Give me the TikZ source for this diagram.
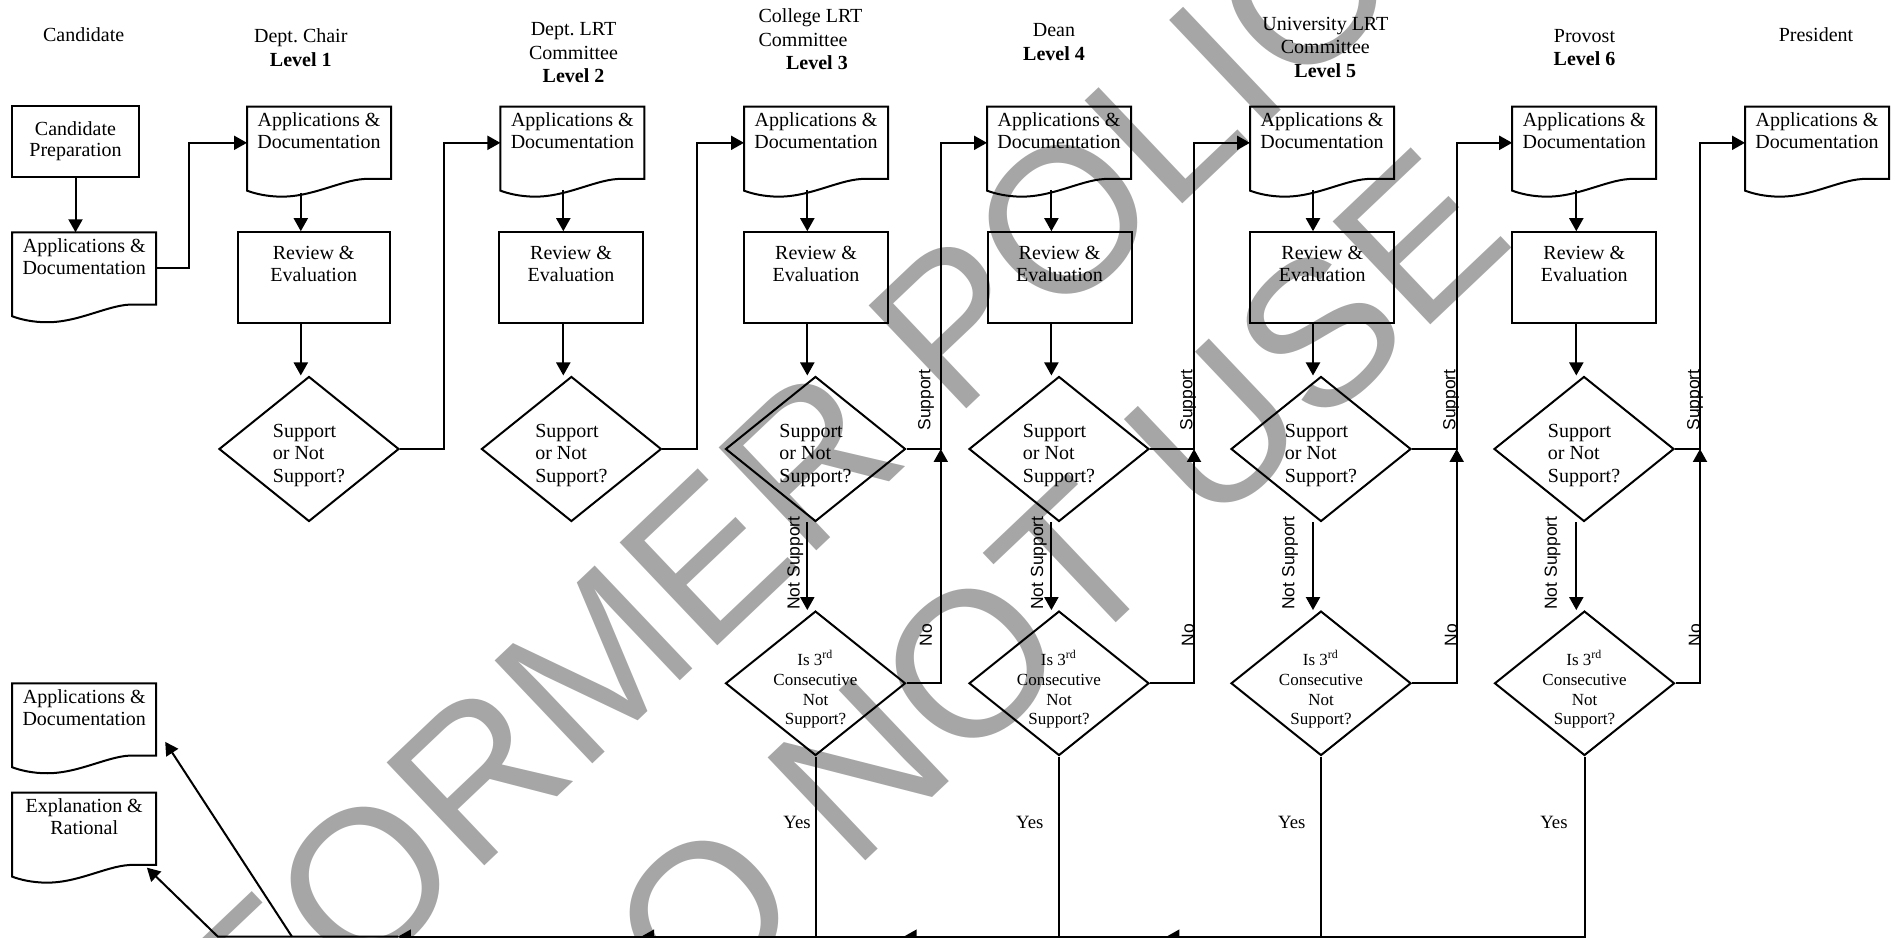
\documentclass[tikz,border=0pt]{standalone}
\usepackage{fontspec}
\setmainfont{Liberation Serif}
\setsansfont{Liberation Sans}
\usepackage{tikz}
\usetikzlibrary{shapes.geometric, arrows.meta}
\usepackage{xcolor}
\definecolor{wmgray}{RGB}{166,166,166}

\tikzset{
  >={Triangle[length=5.2pt,width=5.6pt]},
  headtext/.style={align=center, font=\fontsize{8}{9.5}\selectfont, inner sep=0pt},
  prepbox/.style={draw, align=center, minimum width=50.6pt, minimum height=28.6pt, inner sep=0pt,
    font=\fontsize{8}{8.3}\selectfont},
  docnode/.style={anchor=north, inner sep=0pt, outer sep=0pt, minimum width=57.6pt, minimum height=28.9pt,
    execute at begin node={\begin{minipage}[t][23.9pt][t]{57.6pt}\centering},
    execute at end node={\end{minipage}},
    append after command={\pgfextra{\let\dn\tikzlastnode
      \draw (\dn.north west) -- (\dn.north east) -- (\dn.south east)
        -- ([shift={(-22,0)}]\dn.south east)
        .. controls ([shift={(-46,-1)}]\dn.south east) and ([shift={(68,17.7)}]\dn.south west) .. ([shift={(35,17.7)}]\dn.south west)
        .. controls ([shift={(20,17.7)}]\dn.south west) and ([shift={(8,14.7)}]\dn.south west) .. ([shift={(0,11.7)}]\dn.south west)
        -- cycle;}}},
  revbox/.style={draw, inner sep=0pt, minimum width=#1, minimum height=36.3pt,
    execute at begin node={\begin{minipage}[t][25.1pt][t]{#1}\centering},
    execute at end node={\end{minipage}}},
  revbox/.default=57.6pt,
  decide/.style={draw, diamond, minimum width=72pt, minimum height=58pt, inner xsep=0pt, inner ysep=-6pt,
    align=left, font=\fontsize{8}{9}\selectfont},
  askbox/.style={draw, diamond, minimum width=72pt, minimum height=57.4pt, inner xsep=0pt, inner ysep=-6pt,
    align=center, font=\fontsize{6.8}{7.9}\selectfont},
  lbl/.style={font=\sffamily\fontsize{7}{8}\selectfont, inner sep=0pt, rotate=90},
  yeslbl/.style={font=\fontsize{7.5}{8}\selectfont, inner sep=0pt},
  wmark/.style={text=wmgray, font=\sffamily\fontsize{82.5}{82.5}\selectfont, inner sep=0pt, rotate=43.5}
}
\newcommand{\topgap}[1]{\rule{0pt}{#1}}

\begin{document}
\begin{tikzpicture}[x=0.4pt, y=-0.4pt, line width=0.8pt, font=\fontsize{8}{8.7}\selectfont]
\useasboundingbox (0,0) rectangle (1900,938);
\clip (0,0) rectangle (1900,938);

% watermark
\node[wmark] (wm1) at (835,436) {FORMER POLICY};
\node[wmark] (wm2) at (1004,632) {DO NOT USE};

% headers
\node[headtext] (hcand) at (83.7,35) {Candidate};
\node[headtext] (hchair) at (300.8,47.5) {Dept.\ Chair\\\textbf{Level 1}};
\node[headtext] (hdlrt) at (573.5,52.7) {Dept.\ LRT\\Committee\\\textbf{Level 2}};
\node[headtext, align=left, anchor=west] (hclrt) at (757.6,39.3) {College LRT\\Committee\\\hspace*{11pt}\textbf{Level 3}};
\node[headtext] (hdean) at (1054,41.7) {Dean\\\textbf{Level 4}};
\node[headtext] (hulrt) at (1325.3,47.3) {University LRT\\Committee\\\textbf{Level 5}};
\node[headtext] (hprov) at (1584.5,47.5) {Provost\\\textbf{Level 6}};
\node[headtext] (hpres) at (1816,35) {President};

% candidate
\node[prepbox] (prep) at (75.5,141.5) {Candidate\\Preparation};
\node[docnode] (cdoc) at (84.2,232.3) {Applications \&\\Documentation};
\draw[->] (prep) -- (prep |- cdoc.north);

% level 1
\node[docnode] (d1) at (319,106.7) {Applications \&\\Documentation};
\node[revbox=60.9pt] (r1) at (313.7,277.6) {Review \&\\Evaluation};
\node[decide] (s1) at (309,449) {\topgap{10.4pt}Support\\or Not\\Support?};
\coordinate (a1) at (300.8,0);
\draw[->, shorten <=5.6pt] (a1 |- d1.south) -- (a1 |- r1.north);
\draw[->] (a1 |- r1.south) -- (a1 |- s1.north);

% level 2
\node[docnode] (d2) at (572.4,106.7) {Applications \&\\Documentation};
\node[revbox] (r2) at (571,277.6) {Review \&\\Evaluation};
\node[decide] (s2) at (571.4,449) {\topgap{10.4pt}Support\\or Not\\Support?};
\coordinate (a2) at (563.3,0);
\draw[->, shorten <=4.4pt] (a2 |- d2.south) -- (a2 |- r2.north);
\draw[->] (a2 |- r2.south) -- (a2 |- s2.north);

% level 3
\node[docnode] (d3) at (816,106.7) {Applications \&\\Documentation};
\node[revbox] (r3) at (816,277.6) {Review \&\\Evaluation};
\node[decide] (s3) at (815.5,449) {\topgap{10.4pt}Support\\or Not\\Support?};
\node[askbox] (c3) at (815.5,683.3) {\topgap{11pt}Is 3\textsuperscript{rd}\\Consecutive\\Not\\Support?};
\coordinate (a3) at (807.3,0);
\draw[->, shorten <=4.4pt] (a3 |- d3.south) -- (a3 |- r3.north);
\draw[->] (a3 |- r3.south) -- (a3 |- s3.north);
\draw[->] (a3 |- s3.south) -- (a3 |- c3.north);

% level 4
\node[docnode] (d4) at (1059,106.7) {Applications \&\\Documentation};
\node[revbox] (r4) at (1059.5,277.6) {Review \&\\Evaluation};
\node[decide] (s4) at (1059,449) {\topgap{10.4pt}Support\\or Not\\Support?};
\node[askbox] (c4) at (1059,683.3) {\topgap{11pt}Is 3\textsuperscript{rd}\\Consecutive\\Not\\Support?};
\coordinate (a4) at (1051.4,0);
\draw[->, shorten <=4.4pt] (a4 |- d4.south) -- (a4 |- r4.north);
\draw[->] (a4 |- r4.south) -- (a4 |- s4.north);
\draw[->] (a4 |- s4.south) -- (a4 |- c4.north);

% level 5
\node[docnode] (d5) at (1322,106.7) {Applications \&\\Documentation};
\node[revbox] (r5) at (1322.3,277.6) {Review \&\\Evaluation};
\node[decide] (s5) at (1321,449) {\topgap{10.4pt}Support\\or Not\\Support?};
\node[askbox] (c5) at (1321,683.3) {\topgap{11pt}Is 3\textsuperscript{rd}\\Consecutive\\Not\\Support?};
\coordinate (a5) at (1313,0);
\draw[->, shorten <=4.4pt] (a5 |- d5.south) -- (a5 |- r5.north);
\draw[->] (a5 |- r5.south) -- (a5 |- s5.north);
\draw[->] (a5 |- s5.south) -- (a5 |- c5.north);

% level 6
\node[docnode] (d6) at (1584.2,106.7) {Applications \&\\Documentation};
\node[revbox] (r6) at (1584.3,277.6) {Review \&\\Evaluation};
\node[decide] (s6) at (1584,449) {\topgap{10.4pt}Support\\or Not\\Support?};
\node[askbox] (c6) at (1584.5,683.3) {\topgap{11pt}Is 3\textsuperscript{rd}\\Consecutive\\Not\\Support?};
\coordinate (a6) at (1576.3,0);
\draw[->, shorten <=4.4pt] (a6 |- d6.south) -- (a6 |- r6.north);
\draw[->] (a6 |- r6.south) -- (a6 |- s6.north);
\draw[->] (a6 |- s6.south) -- (a6 |- c6.north);

% president
\node[docnode] (d7) at (1817,106.7) {Applications \&\\Documentation};

% forward links
\coordinate (j0) at (188.6,0);
\coordinate (j1) at (444,0);
\coordinate (j2) at (697,0);
\coordinate (j3) at (940.8,0);
\coordinate (j4) at (1194,0);
\coordinate (j5) at (1456.7,0);
\coordinate (j6) at (1700,0);
\draw[->] (cdoc.east) -| (j0 |- d1.west) -- (d1.west);
\draw[->] (s1.east) -| (j1 |- d2.west) -- (d2.west);
\draw[->] (s2.east) -| (j2 |- d3.west) -- (d3.west);
\draw[->] (s3.east) -| (j3 |- d4.west) -- (d4.west);
\draw[->] (s4.east) -| (j4 |- d5.west) -- (d5.west);
\draw[->] (s5.east) -| (j5 |- d6.west) -- (d6.west);
\draw[->] (s6.east) -| (j6 |- d7.west) -- (d7.west);

% "No" links
\draw[->] (c3.east) -| (j3 |- s3.east);
\draw[->] (c4.east) -| (j4 |- s4.east);
\draw[->] (c5.east) -| (j5 |- s5.east);
\draw[->] (c6.east) -| (j6 |- s6.east);

% labels
\node[lbl] (sup3) at (926,400) {Support};
\node[lbl] (sup4) at (1188,400) {Support};
\node[lbl] (sup5) at (1451,400) {Support};
\node[lbl] (sup6) at (1695,400) {Support};
\node[lbl] (ns3) at (795.4,563) {Not Support};
\node[lbl] (ns4) at (1038.8,563) {Not Support};
\node[lbl] (ns5) at (1290,563) {Not Support};
\node[lbl] (ns6) at (1552.6,563) {Not Support};
\node[lbl] (no3) at (926,635) {No};
\node[lbl] (no4) at (1188,635) {No};
\node[lbl] (no5) at (1451,635) {No};
\node[lbl] (no6) at (1695,635) {No};
\node[yeslbl] (yes3) at (797,822.7) {Yes};
\node[yeslbl] (yes4) at (1029.8,822.7) {Yes};
\node[yeslbl] (yes5) at (1291.8,822.7) {Yes};
\node[yeslbl] (yes6) at (1553.9,822.7) {Yes};

% outcome documents
\node[docnode] (out1) at (84.2,683.3) {Applications \&\\Documentation};
\node[docnode] (out2) at (84.2,792.7) {Explanation \&\\Rational};

% "Yes" return line
\coordinate (t3) at (397.8,936.7);
\coordinate (t4) at (641,936.7);
\coordinate (t5) at (903.6,936.7);
\coordinate (t6) at (1166.3,936.7);
\coordinate (b0) at (217.9,936.7);
\coordinate (b1) at (292,936.7);
\draw[->] (c6.south) |- (t6);
\draw[->] (c5.south) |- (t5);
\draw[->] (c4.south) |- (t4);
\draw[->] (c3.south) |- (t3);
\draw[->] (t3) -- (b0) -- ([shift={(-9.3,2.7)}]out2.south east);
\draw[->] (b1) -- ([shift={(9,-13.7)}]out1.south east);
\end{tikzpicture}
\end{document}
